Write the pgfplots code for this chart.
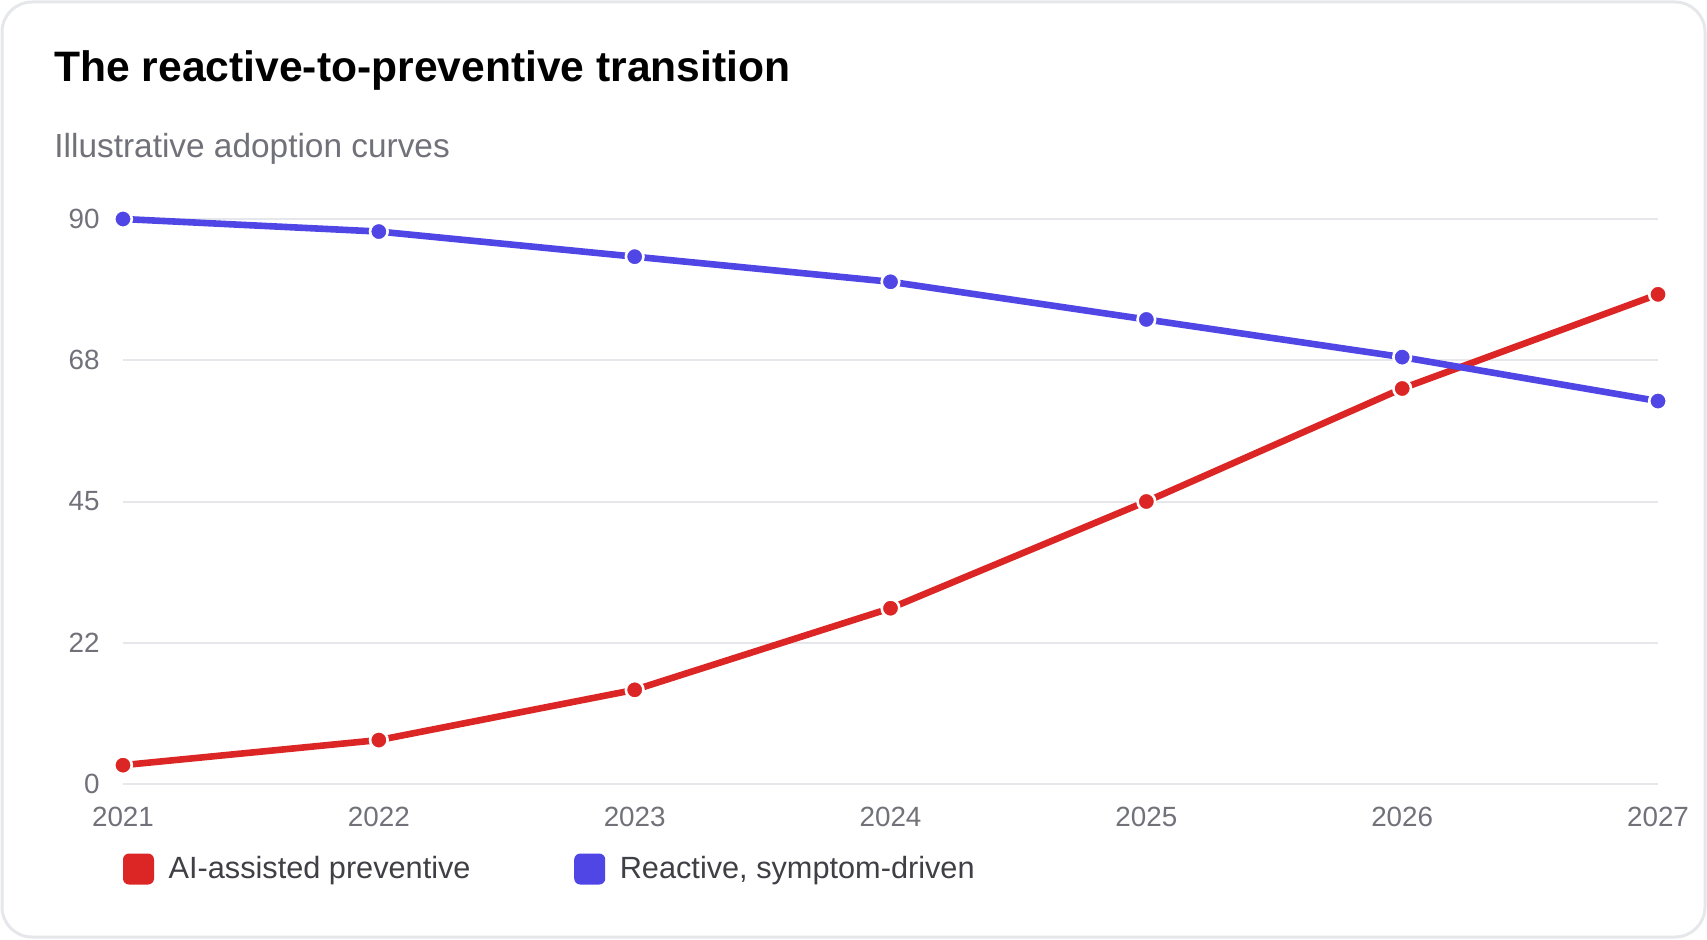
\documentclass[border=0pt]{standalone}
\usepackage{pgfplots}
\pgfplotsset{compat=1.18}
\usepackage{fontspec}
\setmainfont{Liberation Sans}

\definecolor{prevred}{HTML}{DC2626}
\definecolor{reactblue}{HTML}{4F46E5}
\definecolor{gridgray}{HTML}{E5E7EB}
\definecolor{ticktext}{HTML}{71717A}
\definecolor{subtext}{HTML}{71717A}
\definecolor{legtext}{HTML}{3F3F46}
\definecolor{framegray}{HTML}{E5E7EB}

\begin{document}
\begin{tikzpicture}[x=1pt,y=1pt]
  \useasboundingbox (0,0) rectangle (853.5,469.5);
  % card frame
  \draw[framegray, line width=1.5pt, rounded corners=15pt, fill=white]
    (1,1) rectangle (852.5,468.5);
  % heading
  \node[anchor=base west, inner sep=0pt, font=\fontsize{21.3}{26}\selectfont\bfseries]
    at (27,428.5) {The reactive-to-preventive transition};
  \node[anchor=base west, inner sep=0pt, text=subtext, font=\fontsize{16.7}{20}\selectfont]
    at (27,390.5) {Illustrative adoption curves};

  \begin{axis}[
    at={(61.5pt,77.5pt)}, anchor=south west,
    scale only axis, width=767.5pt, height=282.5pt,
    xmin=2021, xmax=2027, ymin=0, ymax=90,
    clip=false,
    axis line style={draw=none},
    major tick length=0pt,
    xtick={2021,2022,2023,2024,2025,2026,2027},
    ytick={0,22.5,45,67.5,90},
    yticklabels={0,22,45,68,90},
    xticklabel style={/pgf/number format/1000 sep={}, inner sep=0pt, anchor=north, yshift=-11.5pt},
    yticklabel style={inner sep=0pt, anchor=east, xshift=-11.5pt},
    /pgf/number format/assume math mode=true,
    tick label style={text=ticktext, font=\fontsize{13.9}{16}\selectfont},
    ymajorgrids, grid style={gridgray, line width=1pt},
    legend columns=2,
    legend cell align=left,
    legend style={draw=none, fill=none, inner sep=0pt, outer sep=0pt,
      at={(0,-0.1505)}, anchor=west,
      font=\fontsize{15.35}{18}\selectfont, text=legtext,
      nodes={inner sep=0pt},
      /tikz/every odd column/.append style={column sep=7.3pt},
      /tikz/every even column/.append style={column sep=51.8pt}},
    legend image code/.code={\fill[draw=none, rounded corners=3pt] (0pt,-7.75pt) rectangle (15.5pt,7.75pt);},
  ]
    \addplot[prevred, line width=3.3pt, mark=*, mark size=4.4pt,
      mark options={fill=prevred, draw=white, line width=1.3pt}]
      coordinates {(2021,3) (2022,7) (2023,15) (2024,28) (2025,45) (2026,63) (2027,78)};
    \addlegendentry{AI-assisted preventive}
    \addplot[reactblue, line width=3.3pt, mark=*, mark size=4.4pt,
      mark options={fill=reactblue, draw=white, line width=1.3pt}]
      coordinates {(2021,90) (2022,88) (2023,84) (2024,80) (2025,74) (2026,68) (2027,61)};
    \addlegendentry{Reactive, symptom-driven}
  \end{axis}
\end{tikzpicture}
\end{document}
